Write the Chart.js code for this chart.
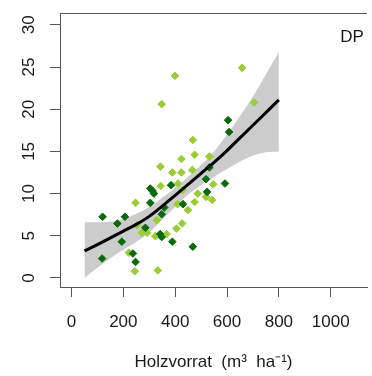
<!DOCTYPE html>
<html>
<head>
<meta charset="utf-8">
<script src="https://cdn.jsdelivr.net/npm/chart.js@4"></script>
<style>
  body { margin: 0; background: #fff; }
  canvas { display: block; }
</style>
</head>
<body>
<canvas id="chart" width="372" height="376"></canvas>
<script>
// Holzvorrat (x) vs. response (y), two groups of plots
const darkX = [604, 608, 532, 519, 592, 384, 304, 313, 318, 523, 430, 304, 358, 348, 120, 206, 177, 285, 342, 348, 194, 389, 468, 237, 118, 247];
const darkY = [18.7, 17.3, 13.1, 11.7, 11.2, 11.0, 10.6, 10.3, 10.0, 10.2, 8.75, 8.9, 8.35, 7.55, 7.25, 7.25, 6.45, 5.95, 5.2, 4.85, 4.3, 4.3, 3.7, 2.9, 2.3, 1.9];

const lightX = [658, 399, 348, 705, 468, 424, 475, 532, 343, 389, 424, 466, 547, 411, 344, 428, 487, 519, 543, 475, 409, 247, 449, 329, 253, 427, 405, 272, 292, 323, 367, 221, 244, 333];
const lightY = [24.9, 23.95, 20.6, 20.8, 16.35, 14.1, 14.6, 14.4, 13.2, 12.5, 12.5, 12.8, 11.1, 11.2, 10.9, 10.4, 10.0, 9.6, 9.25, 9.0, 8.75, 8.9, 8.05, 6.85, 6.25, 6.45, 5.85, 5.35, 5.35, 4.95, 5.2, 3.0, 0.8, 0.9];

// smoothed fit with confidence band
const fitX     = [50, 100, 150, 200, 250, 300, 350, 400, 450, 500, 550, 600, 650, 700, 750, 800];
const fitY     = [3.2, 3.95, 4.75, 5.55, 6.35, 7.3, 8.5, 9.8, 11.1, 12.4, 13.7, 15.1, 16.6, 18.1, 19.6, 21.1];
const fitUpper = [6.6, 6.6, 6.65, 7.0, 7.6, 8.4, 9.5, 10.7, 12.0, 13.4, 15.0, 17.0, 19.2, 21.5, 24.1, 26.8];
const fitLower = [0.0, 1.2, 2.35, 3.35, 4.3, 5.4, 6.9, 8.4, 9.9, 11.0, 12.0, 12.9, 13.8, 14.5, 14.9, 15.0];

const xTicks = [0, 200, 400, 600, 800, 1000];
const yTicks = [0, 5, 10, 15, 20, 25, 30];
const panelLabel = 'DP';

const pts = (xs, ys) => xs.map((x, i) => ({ x: x, y: ys[i] }));

const axisColor = '#555';
const textColor = '#1a1a1a';
const font = { family: 'Arial, "Liberation Sans", sans-serif', size: 17 };

// keep the plot box where it is in the original
const fixBox = (s, size) => {
  if (s.isHorizontal()) s.height = size; else s.width = size;
  s.paddingTop = 0; s.paddingBottom = 0; s.paddingLeft = 0; s.paddingRight = 0;
};

const frame = {
  id: 'frame',
  afterDraw(chart) {
    const { ctx, chartArea } = chart;
    ctx.save();
    ctx.strokeStyle = axisColor;
    ctx.lineWidth = 1;
    ctx.beginPath();
    ctx.moveTo(chartArea.left, chartArea.top + 0.5);
    ctx.lineTo(chartArea.right, chartArea.top + 0.5);
    ctx.stroke();
    ctx.fillStyle = textColor;
    ctx.font = '17px Arial, "Liberation Sans", sans-serif';
    ctx.textAlign = 'center';
    ctx.textBaseline = 'middle';
    ctx.fillText(panelLabel, 352, 37);
    ctx.restore();
  }
};

const config = {
  type: 'scatter',
  data: {
    datasets: [
      {
        type: 'line',
        label: 'fit',
        data: pts(fitX, fitY),
        borderColor: '#000',
        borderWidth: 3,
        pointRadius: 0,
        cubicInterpolationMode: 'monotone',
        fill: false,
        order: 0
      },
      {
        label: 'dark',
        data: pts(darkX, darkY),
        pointStyle: 'rectRot',
        pointRadius: 3.8,
        borderWidth: 1,
        backgroundColor: '#0a6a0a',
        borderColor: '#0a6a0a',
        order: 1
      },
      {
        label: 'light',
        data: pts(lightX, lightY),
        pointStyle: 'rectRot',
        pointRadius: 3.8,
        borderWidth: 1,
        backgroundColor: '#9acd32',
        borderColor: '#9acd32',
        order: 1
      },
      {
        type: 'line',
        label: 'lower',
        data: pts(fitX, fitLower),
        borderWidth: 0,
        pointRadius: 0,
        cubicInterpolationMode: 'monotone',
        fill: false,
        order: 3
      },
      {
        type: 'line',
        label: 'upper',
        data: pts(fitX, fitUpper),
        borderWidth: 0,
        pointRadius: 0,
        cubicInterpolationMode: 'monotone',
        backgroundColor: '#cccccc',
        fill: '-1',
        order: 2
      }
    ]
  },
  options: {
    responsive: false,
    animation: false,
    devicePixelRatio: 1,
    layout: { padding: { top: 13, right: 0, left: 0, bottom: 0 } },
    plugins: {
      legend: { display: false },
      tooltip: { enabled: false }
    },
    scales: {
      x: {
        type: 'linear',
        min: -44.4,
        max: 1140,
        afterBuildTicks: s => { s.ticks = xTicks.map(v => ({ value: v })); },
        afterFit: s => fixBox(s, 89),
        border: { display: true, color: axisColor, width: 1 },
        grid: { drawOnChartArea: false, drawTicks: true, tickLength: 10, color: axisColor },
        ticks: { color: textColor, font: font, padding: 15, maxRotation: 0, autoSkip: false, callback: v => String(v) },
        title: {
          display: true,
          text: 'Holzvorrat  (m³  ha⁻¹)',
          color: textColor,
          font: font,
          padding: { top: 4, bottom: 3 }
        }
      },
      y: {
        type: 'linear',
        min: -1.07,
        max: 31.4,
        afterBuildTicks: s => { s.ticks = yTicks.map(v => ({ value: v })); },
        afterFit: s => fixBox(s, 60),
        border: { display: true, color: axisColor, width: 1 },
        grid: { drawOnChartArea: false, drawTicks: true, tickLength: 10, color: axisColor },
        ticks: { color: textColor, font: font, padding: 11, minRotation: 90, maxRotation: 90, crossAlign: 'center', autoSkip: false, callback: v => String(v) }
      }
    }
  },
  plugins: [frame]
};

const chart = new Chart(document.getElementById('chart'), config);
</script>
</body>
</html>
